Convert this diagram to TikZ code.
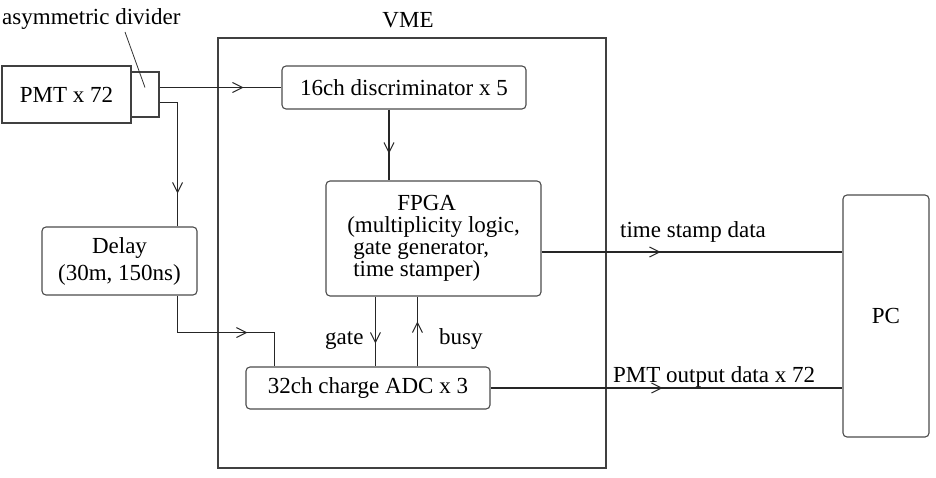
\documentclass[tikz,border=0pt]{standalone}
\usepackage{fontspec}
\setmainfont{Liberation Serif}
\usetikzlibrary{arrows.meta,decorations.markings,calc}
\begin{document}
\begin{tikzpicture}[x=1pt,y=-1pt,
  every node/.style={font=\fontsize{23}{22}\selectfont, inner sep=0pt},
  sq/.style={draw=black!75, line width=1.1pt},
  rbox/.style={draw=black!70, line width=1.1pt, rounded corners=4pt},
  wire/.style={draw=black!85, line width=1.1pt},
  arrat/.style={postaction={decorate,decoration={markings,
     mark=at position #1 with {\arrow{Straight Barb[length=10pt,width=10pt,line width=1pt]}}}}}
]
\useasboundingbox (0,0) rectangle (936,478);
% boxes
\node[sq, minimum width=388pt, minimum height=430pt] (vme) at (412,253) {};
\node[anchor=base] (vmelabel) at (408,28) {VME};
\node[sq, minimum width=129pt, minimum height=57pt] (pmt) at (66.5,94.5) {PMT x 72};
\node[sq, minimum width=28pt, minimum height=45pt] (div) at (145,94.5) {};
\node[anchor=base west] (divlabel) at (2,25) {asymmetric divider};
\node[rbox, minimum width=244pt, minimum height=43pt] (disc) at (404,87.5) {16ch discriminator x 5};
\node[rbox, minimum width=215pt, minimum height=115pt, align=left] (fpga) at (433.5,238.5)
  {\hspace*{50pt}FPGA\\(multiplicity logic,\\\hspace*{6pt}gate generator,\\\hspace*{6pt}time stamper)};
\node[rbox, minimum width=155pt, minimum height=68pt, align=center,
  font=\fontsize{23}{27}\selectfont] (delay) at (119.5,261) {Delay\\(30m, 150ns)};
\node[rbox, minimum width=244pt, minimum height=42pt] (adc) at (368,388) {32ch charge ADC x 3};
\node[rbox, minimum width=86pt, minimum height=242pt] (pc) at (886,316) {PC};
% labels
\node[anchor=base west] (tsl) at (620,237) {time stamp data};
\node[anchor=base west] (pol) at (613,382) {PMT output data x 72};
\node[anchor=base west] (gatel) at (325,344) {gate};
\node[anchor=base west] (busyl) at (439,344) {busy};
% leader
\coordinate (lead) at (125,32);
\draw[line width=0.8pt, black!80] (lead) -- ($(div.center)+(0,-7)$);
% connectors
\draw[wire, arrat=84pt] (div.east |- disc.west) -- (disc.west);
\coordinate (d2) at ($(div.south east)+(0,-15)$);
\coordinate (dl) at ($(delay.north east)+(-20,0)$);
\draw[wire, arrat=109pt] (d2) -| (dl);
\coordinate (ds) at ($(delay.south east)+(-20,0)$);
\coordinate (an) at ($(adc.north west)+(29,0)$);
\draw[wire, arrat=107pt] (ds) -- ++(0,37) -| (an);
\coordinate (dd) at ($(disc.south)+(-15,0)$);
\draw[wire, arrat=44pt] (dd) -- (dd |- fpga.north);
\coordinate (gs) at ($(fpga.south west)+(50,0)$);
\draw[wire, arrat=47pt] (gs) -- (gs |- adc.north);
\coordinate (bs) at ($(fpga.south west)+(92,0)$);
\draw[wire, arrat=45pt] (bs |- adc.north) -- (bs);
\coordinate (fe) at ($(fpga.east)+(0,13.5)$);
\draw[wire, arrat=119pt] (fe) -- (fe -| pc.west);
\draw[wire, arrat=172pt] (adc.east) -- (adc.east -| pc.west);
\end{tikzpicture}
\end{document}
